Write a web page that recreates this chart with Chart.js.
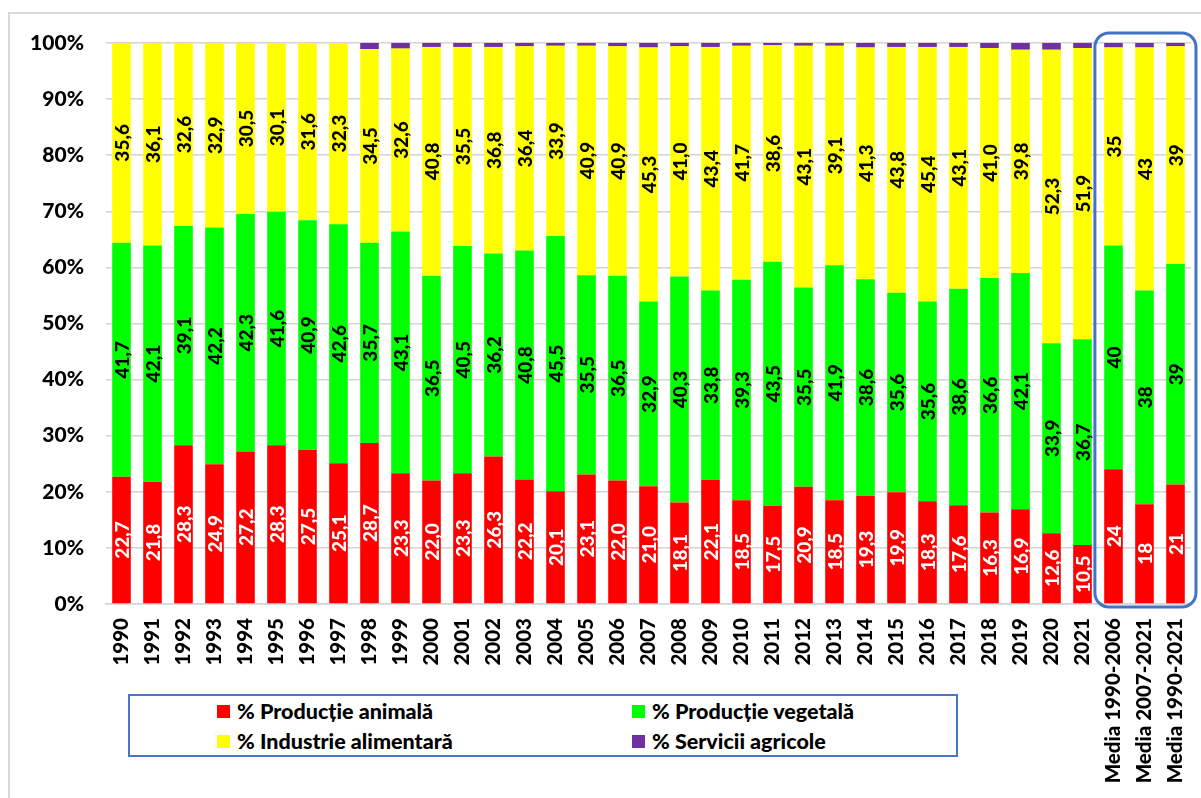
<!DOCTYPE html>
<html>
<head>
<meta charset="utf-8">
<script src="https://cdn.jsdelivr.net/npm/chart.js@4.4.1/dist/chart.umd.min.js"></script>
<style>
  html, body { margin: 0; padding: 0; background: #fff; overflow: hidden; }
  #wrap { position: relative; width: 1201px; height: 798px; }
  #frame { position: absolute; left: 8px; top: 12px; width: 1400px; height: 1000px; border: 2px solid #d9d9d9; box-sizing: border-box; }
  canvas { position: absolute; left: 0; top: 0; }
  #legend { position: absolute; left: 128px; top: 694px; width: 830px; height: 63px; border: 2px solid #4a76c8; box-sizing: border-box; background: #fff;
            font-family: Lato, "Open Sans", sans-serif; font-weight: 900; font-size: 21.5px; color: #000; }
  .li { position: absolute; display: flex; align-items: center; white-space: nowrap; line-height: 26px; }
  .sw { width: 13px; height: 13px; margin-right: 7px; }
</style>
</head>
<body>
<div id="wrap">
  <div id="frame"></div>
  <canvas id="c" width="1201" height="798"></canvas>
  <div id="legend"></div>
</div>
<script>
const categories = ['1990','1991','1992','1993','1994','1995','1996','1997','1998','1999',
  '2000','2001','2002','2003','2004','2005','2006','2007','2008','2009','2010','2011',
  '2012','2013','2014','2015','2016','2017','2018','2019','2020','2021',
  'Media 1990-2006','Media 2007-2021','Media 1990-2021'];

const seriesNames = ['% Producție animală', '% Producție vegetală', '% Industrie alimentară', '% Servicii agricole'];

const animal = [22.7,21.8,28.3,24.9,27.2,28.3,27.5,25.1,28.7,23.3,
  22.0,23.3,26.3,22.2,20.1,23.1,22.0,21.0,18.1,22.1,18.5,17.5,
  20.9,18.5,19.3,19.9,18.3,17.6,16.3,16.9,12.6,10.5,
  24.0,17.8,21.3];

const vegetal = [41.7,42.1,39.1,42.2,42.3,41.6,40.9,42.6,35.7,43.1,
  36.5,40.5,36.2,40.8,45.5,35.5,36.5,32.9,40.3,33.8,39.3,43.5,
  35.5,41.9,38.6,35.6,35.6,38.6,41.8,42.1,33.9,36.7,
  39.9,38.1,39.3];

// text printed on the vegetal segments where it differs from the drawn height
const vegetalLabelText = {28: '36,6'};

const industrie = [35.6,36.1,32.6,32.9,30.5,30.1,31.6,32.3,34.5,32.6,
  40.8,35.5,36.8,36.4,33.9,40.9,40.9,45.3,41.0,43.4,41.7,38.6,
  43.1,39.1,41.3,43.8,45.4,43.1,41.0,39.8,52.3,51.9,
  35.3,43.3,38.8];

const servicii = [0,0,0,0,0,0,0,0,1.1,1.0,
  0.7,0.7,0.7,0.6,0.5,0.5,0.6,0.8,0.6,0.7,0.5,0.4,
  0.5,0.5,0.8,0.7,0.7,0.7,0.9,1.2,1.2,0.9,
  0.8,0.8,0.6];

const colors = ['#ff0000', '#00ff00', '#ffff00', '#7030a0'];
const labelColors = ['#ffffff', '#000000', '#000000', null];

const yTicks = [0,10,20,30,40,50,60,70,80,90,100];

const FONT = 'Lato, "Open Sans", sans-serif';
const W = 900;

function fmt(v, idx, ds) {
  if (ds === 1 && vegetalLabelText[idx] !== undefined) return vegetalLabelText[idx];
  if (categories[idx].startsWith('Media')) return String(Math.round(v));
  return v.toFixed(1).replace('.', ',');
}

const segLabels = {
  id: 'segLabels',
  afterDatasetsDraw(chart) {
    const ctx = chart.ctx;
    ctx.save();
    ctx.font = W + ' 19px ' + FONT;
    ctx.textAlign = 'center';
    ctx.textBaseline = 'middle';
    chart.data.datasets.forEach((ds, di) => {
      if (!labelColors[di]) return;
      const meta = chart.getDatasetMeta(di);
      meta.data.forEach((el, i) => {
        const v = ds.data[i];
        if (!v) return;
        const cy = (el.y + el.base) / 2;
        ctx.save();
        ctx.translate(el.x, cy);
        ctx.rotate(-Math.PI / 2);
        ctx.fillStyle = labelColors[di];
        ctx.fillText(fmt(v, i, di), 0, 1);
        ctx.restore();
      });
    });
    ctx.restore();
  }
};

const mediaBox = {
  id: 'mediaBox',
  afterDraw(chart) {
    const xs = chart.scales.x, ys = chart.scales.y;
    const step = xs.getPixelForValue(1) - xs.getPixelForValue(0);
    const x1 = xs.getPixelForValue(32) - step * 0.6;
    const x2 = xs.getPixelForValue(34) + step * 0.66;
    const y1 = ys.getPixelForValue(100) - 10;
    const y2 = ys.getPixelForValue(0) + 3;
    const r = 14;
    const ctx = chart.ctx;
    ctx.save();
    ctx.strokeStyle = '#4472c4';
    ctx.lineWidth = 3;
    ctx.beginPath();
    ctx.roundRect(x1, y1, x2 - x1, y2 - y1, r);
    ctx.stroke();
    ctx.restore();
  }
};

const datasets = [animal, vegetal, industrie, servicii].map((d, i) => ({
  label: seriesNames[i],
  data: d,
  backgroundColor: colors[i],
  borderWidth: 0,
  barPercentage: 0.6,
  categoryPercentage: 1.0
}));

new Chart(document.getElementById('c'), {
  type: 'bar',
  data: { labels: categories, datasets },
  options: {
    responsive: false,
    animation: false,
    layout: { padding: { left: 0, right: 10, top: 43, bottom: 0 } },
    plugins: { legend: { display: false }, tooltip: { enabled: false } },
    scales: {
      x: {
        stacked: true,
        grid: { display: false },
        border: { display: true, color: '#d4d4d4', width: 1.5 },
        ticks: {
          minRotation: 90, maxRotation: 90, autoSkip: false, padding: 6,
          color: '#000', font: { family: FONT, weight: W, size: 20.5 }
        },
        afterFit(s) { s.height = 194; s.paddingLeft = 0; s.paddingRight = 0; }
      },
      y: {
        stacked: true,
        min: 0, max: 100,
        afterBuildTicks(s) { s.ticks = yTicks.map(v => ({ value: v })); },
        grid: { color: '#d4d4d4', lineWidth: 1.5, drawTicks: false },
        border: { display: false },
        ticks: {
          padding: 22, color: '#000',
          font: { family: FONT, weight: W, size: 21 },
          callback: v => v + '%'
        },
        afterFit(s) { s.width = 106; s.paddingTop = 0; s.paddingBottom = 0; }
      }
    }
  },
  plugins: [segLabels, mediaBox]
});

// HTML legend built from the series names/colours
const legend = document.getElementById('legend');
const pos = [[87, 2], [502, 2], [87, 32], [502, 32]];
[0, 1, 2, 3].forEach((si, k) => {
  const d = document.createElement('div');
  d.className = 'li';
  d.style.left = pos[k][0] + 'px';
  d.style.top = pos[k][1] + 'px';
  const sw = document.createElement('span');
  sw.className = 'sw';
  sw.style.background = colors[si];
  const t = document.createElement('span');
  t.textContent = seriesNames[si];
  d.appendChild(sw); d.appendChild(t);
  legend.appendChild(d);
});
</script>
</body>
</html>
